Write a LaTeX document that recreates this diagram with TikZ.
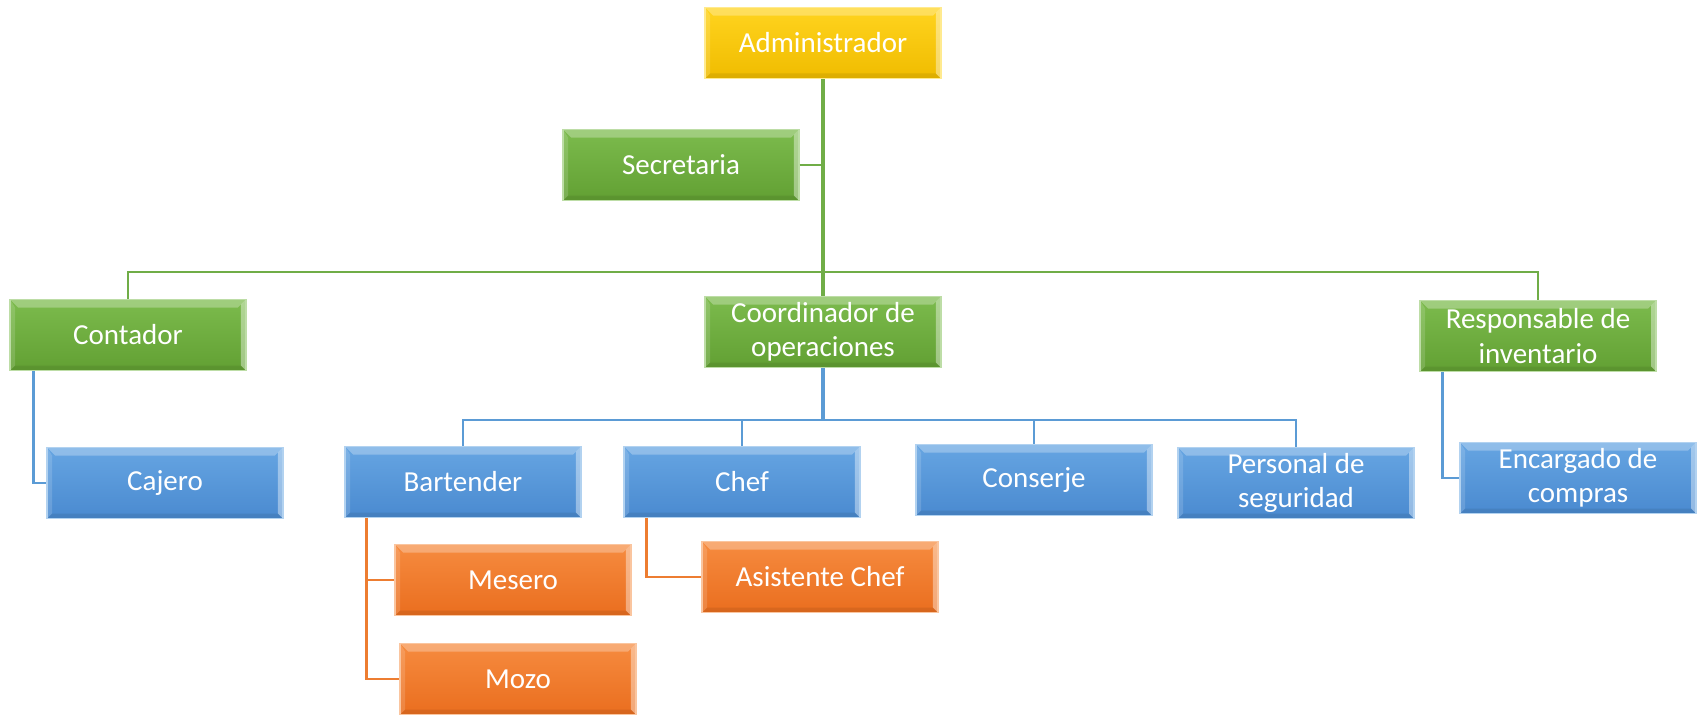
\documentclass[tikz,border=0pt]{standalone}
\usepackage{fontspec}
\setmainfont{Carlito}
\usetikzlibrary{positioning}
\definecolor{ORGgold}{HTML}{F0BC00}
\definecolor{ORGgoldtop}{HTML}{FFD41F}
\definecolor{ORGgreen}{HTML}{62A033}
\definecolor{ORGgreentop}{HTML}{7CBB4D}
\definecolor{ORGblue}{HTML}{4A8AD0}
\definecolor{ORGbluetop}{HTML}{66A5E2}
\definecolor{ORGorange}{HTML}{EA6E1F}
\definecolor{ORGorangetop}{HTML}{F68B3F}
\definecolor{ORGlinegreen}{HTML}{70AD47}
\definecolor{ORGlineblue}{HTML}{5B9BD5}
\definecolor{ORGlineorange}{HTML}{ED7D31}

\tikzset{
  cargo/.style={minimum width=4.72cm, minimum height=1.42cm, inner sep=2pt, align=center,
    text=white, font=\fontsize{16.5}{19.5}\selectfont, line width=0.7pt,
    path picture={
      \fill[white,opacity=0.28] (path picture bounding box.north west) -- (path picture bounding box.north east)
        -- ([shift={(-0.16cm,-0.16cm)}]path picture bounding box.north east) -- ([shift={(0.16cm,-0.16cm)}]path picture bounding box.north west) -- cycle;
      \fill[white,opacity=0.4] (path picture bounding box.north east) -- (path picture bounding box.south east)
        -- ([shift={(-0.1cm,0.1cm)}]path picture bounding box.south east) -- ([shift={(-0.1cm,-0.1cm)}]path picture bounding box.north east) -- cycle;
      \fill[black,opacity=0.08] (path picture bounding box.south west) -- (path picture bounding box.south east)
        -- ([shift={(-0.1cm,0.1cm)}]path picture bounding box.south east) -- ([shift={(0.1cm,0.1cm)}]path picture bounding box.south west) -- cycle;
      \fill[white,opacity=0.15] (path picture bounding box.north west) -- (path picture bounding box.south west)
        -- ([shift={(0.1cm,0.1cm)}]path picture bounding box.south west) -- ([shift={(0.1cm,-0.16cm)}]path picture bounding box.north west) -- cycle;
    }},
  jefe/.style={cargo, top color=ORGgoldtop, bottom color=ORGgold, draw=ORGgoldtop!50!white},
  area/.style={cargo, top color=ORGgreentop, bottom color=ORGgreen, draw=ORGgreentop!50!white},
  puesto/.style={cargo, top color=ORGbluetop, bottom color=ORGblue, draw=ORGbluetop!50!white},
  apoyo/.style={cargo, top color=ORGorangetop, bottom color=ORGorange, draw=ORGorangetop!50!white},
  lgreen/.style={draw=ORGlinegreen, line width=1.5pt},
  lblue/.style={draw=ORGlineblue, line width=1.5pt},
  lorange/.style={draw=ORGlineorange, line width=1.5pt}
}

\begin{document}
\begin{tikzpicture}[x=0.02cm, y=-0.02cm]
\useasboundingbox (0,0) rectangle (1699,714);

% Direccion
\node[jefe] (admin) at (823,43) {Administrador};
\node[area] (sec) at (681,165) {Secretaria};

% Areas
\node[area] (cont) at (128,335) {Contador};
\node[area] (coord) at (823,332) {Coordinador de\\operaciones};
\node[area] (resp) at (1538,336) {Responsable de\\inventario};

% Puestos
\node[puesto] (caj) at (165,483) {Cajero};
\node[puesto] (bart) at (463,482) {Bartender};
\node[puesto] (chef) at (742,482) {Chef};
\node[puesto] (cons) at (1034,480) {Conserje};
\node[puesto] (pers) at (1296,483) {Personal de\\seguridad};
\node[puesto] (enc) at (1578,478) {Encargado de\\compras};

% Apoyo
\node[apoyo] (mes) at (513,580) {Mesero};
\node[apoyo] (mozo) at (518,679) {Mozo};
\node[apoyo] (asis) at (820,577) {Asistente Chef};

% Conectores
\coordinate (gbus) at (825,272);
\coordinate (bbus) at (823,420);

\draw[lgreen, line width=2pt] (admin.south) -- (coord.north);
\draw[lgreen] (sec.east) -- (sec.east -| admin.south);
\draw[lgreen] (cont.north) |- (gbus) -| (resp.north);

\draw[lblue, line width=2pt] (coord.south) -- (bbus);
\draw[lblue] (bart.north) |- (bbus) -| (pers.north);
\draw[lblue] (chef.north) -- (chef.north |- bbus);
\draw[lblue] (cons.north) -- (cons.north |- bbus);
\draw[lblue] ([xshift=0.48cm]cont.south west) |- (caj.west);
\draw[lblue] ([xshift=0.46cm]resp.south west) |- (enc.west);

\draw[lorange] ([xshift=0.44cm]bart.south west) |- (mes.west);
\draw[lorange] ([xshift=0.44cm]bart.south west) |- (mozo.west);
\draw[lorange] ([xshift=0.46cm]chef.south west) |- (asis.west);

\end{tikzpicture}
\end{document}
